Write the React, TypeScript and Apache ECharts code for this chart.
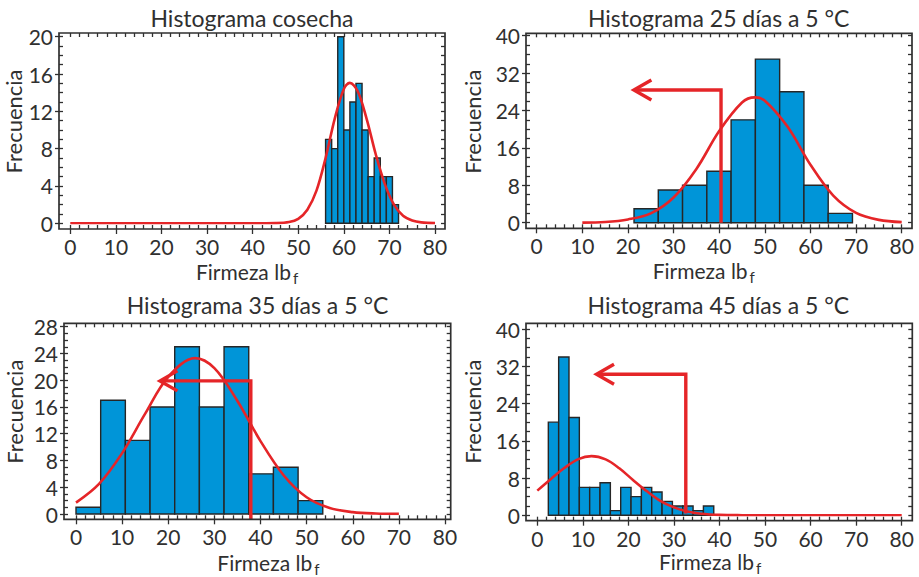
import React, { useEffect, useRef } from "react";
import * as echarts from "echarts";

// ---------- data ----------
const titles = [
  "Histograma cosecha",
  "Histograma 25 días a 5 °C",
  "Histograma 35 días a 5 °C",
  "Histograma 45 días a 5 °C",
];
const yAxisName = "Frecuencia";
const xAxisName = "Firmeza lb";
const xAxisSub = "f";

const xMin = 0;
const xMax = 80;
const xMajorStep = 10;
const xMinorStep = 2;
const yMaxes = [20, 40, 28, 40];
const yMajorSteps = [4, 8, 4, 8];
const yMinorSteps = [1, 2, 1, 2];

// histogram bins: first edge, bin width, counts
const binStartCosecha = 56;
const binWidthCosecha = 1.333;
const countsCosecha = [9, 8, 20, 10, 13, 15, 10, 5, 7, 5, 5, 2];

const binStart25 = 21.33;
const binWidth25 = 5.32;
const counts25 = [3, 7, 8, 11, 22, 35, 28, 8, 2];

const binStart35 = 0;
const binWidth35 = 5.35;
const counts35 = [1, 17, 11, 16, 25, 16, 25, 6, 7, 2];

const binStart45 = 2.42;
const binWidth45 = 2.27;
const counts45 = [20, 34, 21, 6, 6, 7, 1, 6, 4, 6, 5, 3, 2, 2, 1, 2];

// fitted curves, read point by point
const curveCosecha = [
  [0, 0], [10, 0], [20, 0], [30, 0], [40, 0], [45, 0.02], [48, 0.13], [50, 0.48],
  [52, 1.45], [54, 3.5], [56, 7.0], [58, 11.2], [60, 14.4], [61.3, 15.05], [63, 14.2],
  [65, 11.2], [67, 7.4], [69, 4.2], [71, 2.0], [73, 0.8], [75, 0.3], [77, 0.1], [80, 0.02],
];
const curve25 = [
  [10, 0.02], [15, 0.15], [20, 0.7], [25, 2.0], [30, 5.4], [35, 11.5], [40, 19.6],
  [45, 25.7], [47.8, 26.8], [50, 26.1], [55, 20.5], [60, 12.4], [65, 5.8], [70, 2.1],
  [75, 0.6], [80, 0.12],
];
const curve35 = [
  [0, 1.7], [5, 4.5], [10, 9.1], [15, 15.0], [20, 20.5], [25.8, 23.3], [30, 21.8],
  [35, 16.9], [40, 10.9], [45, 5.8], [50, 2.5], [55, 0.9], [60, 0.28], [65, 0.07], [70, 0.02],
];
const curve45 = [
  [0, 5.3], [3, 7.8], [6, 10.2], [9, 12.06], [11.9, 12.7], [15, 12.0], [18, 10.1],
  [21, 7.6], [24, 5.2], [27, 3.1], [30, 1.7], [33, 0.81], [36, 0.35], [40, 0.1],
  [45, 0.02], [50, 0], [60, 0], [70, 0], [80, 0],
];

// arrows: [x of vertical, y bottom, y top, x of tip]
const arrow25 = [40.4, 0, 28.4, 21.3];
const arrow35 = [37.9, -0.8, 19.9, 18.2];
const arrow45 = [32.6, 0.4, 30.3, 13.0];

const binStarts = [binStartCosecha, binStart25, binStart35, binStart45];
const binWidths = [binWidthCosecha, binWidth25, binWidth35, binWidth45];
const countsList = [countsCosecha, counts25, counts35, counts45];
const curves = [curveCosecha, curve25, curve35, curve45];
const arrows = [null, arrow25, arrow35, arrow45];

// ---------- layout (pixels) ----------
const frames = [
  { l: 59, t: 33, r: 445, b: 229, x0: 70.3, x1: 435, y0: 223.3, y1: 36.7 },
  { l: 526, t: 33.3, r: 912, b: 228.3, x0: 536.7, x1: 901.7, y0: 222.7, y1: 35.7 },
  { l: 64, t: 323.3, r: 450.7, b: 519.3, x0: 76, x1: 445, y0: 514, y1: 326.7 },
  { l: 526, t: 323.3, r: 912.3, b: 520.7, x0: 537.3, x1: 901.7, y0: 515.3, y1: 329 },
];
const titlePos = [
  [252, 18], [718.7, 18], [257.5, 305], [718.3, 305],
];
const yNamePos = [
  [13, 121.5], [472.5, 121.7], [14, 411.7], [472.5, 411.7],
];
const xNamePos = [
  [196, 271.5], [652.7, 270.8], [217.3, 562], [659, 561.6],
];

const INK = "#303030";
const BLUE = "#0095d8";
const BAR_EDGE = "#262626";
const RED = "#e52528";
const FONT = "Lato";

function buildOption() {
  const grids: any[] = [];
  const xAxes: any[] = [];
  const yAxes: any[] = [];
  const series: any[] = [];
  const graphics: any[] = [];

  frames.forEach((f, i) => {
    const gridBox = {
      left: f.x0,
      top: f.y1,
      width: f.x1 - f.x0,
      height: f.y0 - f.y1,
      containLabel: false,
      outerBoundsMode: "none",
    };
    const gA = grids.length;
    grids.push({ ...gridBox });
    const gB = grids.length;
    grids.push({ ...gridBox });

    const tickLine = { color: INK, width: 1.3 };
    const noLine = { show: false, onZero: false };
    const labelStyle = {
      fontSize: 21,
      color: INK,
      fontFamily: FONT,
      showMinLabel: true,
      showMaxLabel: true,
    };

    // main axes (major ticks outward + labels)
    const xa = xAxes.length;
    xAxes.push({
      gridIndex: gA, type: "value", position: "bottom", min: xMin, max: xMax,
      interval: xMajorStep, offset: f.b - f.y0,
      axisLine: noLine, splitLine: { show: false },
      axisTick: { show: true, inside: false, length: 5, lineStyle: tickLine },
      axisLabel: { ...labelStyle, margin: 7 },
    });
    const ya = yAxes.length;
    yAxes.push({
      gridIndex: gA, type: "value", position: "left", min: 0, max: yMaxes[i],
      interval: yMajorSteps[i], offset: f.x0 - f.l,
      axisLine: noLine, splitLine: { show: false },
      axisTick: { show: true, inside: false, length: 4, lineStyle: tickLine },
      axisLabel: { ...labelStyle, margin: 6 },
    });
    // minor inward ticks on all four sides
    const minorX = (pos: string, off: number) => ({
      gridIndex: gB, type: "value", position: pos, min: xMin, max: xMax,
      interval: xMinorStep, offset: off,
      axisLine: noLine, splitLine: { show: false },
      axisTick: { show: true, inside: true, length: 4, lineStyle: tickLine },
      axisLabel: { show: false },
    });
    const minorY = (pos: string, off: number) => ({
      gridIndex: gB, type: "value", position: pos, min: 0, max: yMaxes[i],
      interval: yMinorSteps[i], offset: off,
      axisLine: noLine, splitLine: { show: false },
      axisTick: { show: true, inside: true, length: 4, lineStyle: tickLine },
      axisLabel: { show: false },
    });
    xAxes.push(minorX("bottom", f.b - f.y0));
    xAxes.push(minorX("top", f.y1 - f.t));
    yAxes.push(minorY("left", f.x0 - f.l));
    yAxes.push(minorY("right", f.r - f.x1));

    // histogram bars
    const start = binStarts[i];
    const w = binWidths[i];
    series.push({
      type: "custom",
      xAxisIndex: xa,
      yAxisIndex: ya,
      z: 2,
      silent: true,
      data: countsList[i].map((c, k) => [start + k * w, start + (k + 1) * w, c]),
      encode: { x: [0, 1], y: 2 },
      renderItem: (params: any, api: any) => {
        const p0 = api.coord([api.value(0), api.value(2)]);
        const p1 = api.coord([api.value(1), 0]);
        return {
          type: "rect",
          shape: { x: p0[0], y: p0[1], width: p1[0] - p0[0], height: p1[1] - p0[1] },
          style: { fill: BLUE, stroke: BAR_EDGE, lineWidth: 1.4 },
        };
      },
    });

    // fitted curve
    series.push({
      type: "line",
      xAxisIndex: xa,
      yAxisIndex: ya,
      z: 3,
      silent: true,
      data: curves[i],
      smooth: 0.35,
      symbol: "none",
      showSymbol: false,
      lineStyle: { color: RED, width: 2.6 },
    });

    // arrow
    const a = arrows[i];
    if (a) {
      series.push({
        type: "custom",
        xAxisIndex: xa,
        yAxisIndex: ya,
        z: 4,
        silent: true,
        data: [a],
        encode: { x: [0, 3], y: [1, 2] },
        renderItem: (params: any, api: any) => {
          const pb = api.coord([api.value(0), api.value(1)]);
          const pt = api.coord([api.value(0), api.value(2)]);
          const tip = api.coord([api.value(3), api.value(2)]);
          return {
            type: "group",
            children: [
              {
                type: "polyline",
                shape: { points: [pb, pt, [tip[0] + 1, tip[1]]] },
                style: { stroke: RED, lineWidth: 3.4, fill: "none", lineJoin: "miter" },
              },
              {
                type: "polyline",
                shape: {
                  points: [
                    [tip[0] + 17.5, tip[1] - 10],
                    [tip[0], tip[1]],
                    [tip[0] + 17.5, tip[1] + 10],
                  ],
                },
                style: { stroke: RED, lineWidth: 3.4, fill: "none", lineJoin: "miter" },
              },
            ],
          };
        },
      });
    }

    // frame
    graphics.push({
      type: "rect",
      z: 10,
      silent: true,
      shape: { x: f.l, y: f.t, width: f.r - f.l, height: f.b - f.t },
      style: { fill: "none", stroke: INK, lineWidth: 1.7 },
    });
    // title
    graphics.push({
      type: "text",
      x: titlePos[i][0],
      y: titlePos[i][1],
      style: {
        text: titles[i], fill: INK, fontSize: 23, fontFamily: FONT,
        align: "center", verticalAlign: "middle",
      },
    });
    // y name
    graphics.push({
      type: "text",
      x: yNamePos[i][0],
      y: yNamePos[i][1],
      rotation: Math.PI / 2,
      style: {
        text: yAxisName, fill: INK, fontSize: 22, fontFamily: FONT,
        align: "center", verticalAlign: "middle",
      },
    });
    // x name with subscript (rich text)
    graphics.push({
      type: "text",
      x: xNamePos[i][0],
      y: xNamePos[i][1],
      style: {
        text: "{m|" + xAxisName + "}{s|" + xAxisSub + "}",
        fill: INK, fontFamily: FONT,
        align: "left", verticalAlign: "middle",
        rich: {
          m: { fontSize: 21, lineHeight: 28, fontFamily: FONT, fill: INK, verticalAlign: "middle" },
          s: {
            fontSize: 15, lineHeight: 13, fontFamily: FONT, fill: INK,
            verticalAlign: "bottom", padding: [0, 0, 0, 2],
          },
        },
      },
    });
  });

  return {
    animation: false,
    backgroundColor: "#ffffff",
    textStyle: { fontFamily: FONT },
    grid: grids,
    xAxis: xAxes,
    yAxis: yAxes,
    series,
    graphic: graphics,
  };
}

export default function App() {
  const ref = useRef<HTMLDivElement>(null);
  useEffect(() => {
    if (!ref.current) return;
    const chart = echarts.init(ref.current, null, { renderer: "svg" });
    chart.setOption(buildOption() as any);
    return () => chart.dispose();
  }, []);
  return (
    <div
      ref={ref}
      style={{ position: "absolute", left: 0, top: 0, width: 919, height: 577 }}
    />
  );
}
